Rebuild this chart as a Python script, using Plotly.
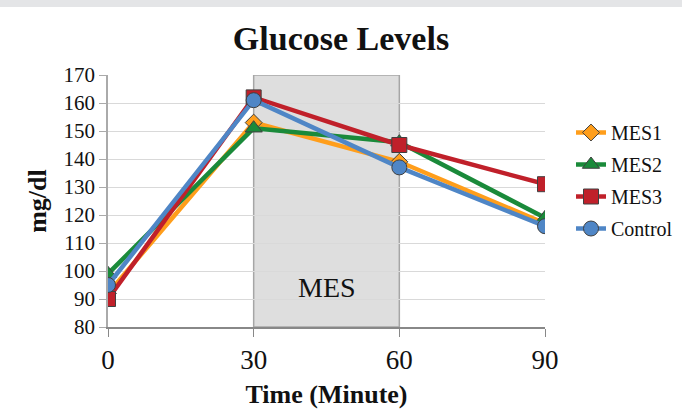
import plotly.graph_objects as go

time = [0, 30, 60, 90]
mes1 = [92, 153, 139, 117]
mes2 = [99, 151, 146, 119]
mes3 = [90, 162, 145, 131]
control = [95, 161, 137, 116]

series = [
    ("MES1", mes1, "#ff9e1b", "diamond"),
    ("MES2", mes2, "#1a8a3a", "triangle-up"),
    ("MES3", mes3, "#c0202a", "square"),
    ("Control", control, "#4f86c6", "circle"),
]

SERIF = "Liberation Serif"

fig = go.Figure()
for i, (name, vals, col, sym) in enumerate(series):
    fig.add_trace(go.Scatter(
        x=time, y=vals, name=name, mode="lines+markers",
        line=dict(color=col, width=4.5),
        marker=dict(symbol=sym, size=15 if sym != "diamond" else 13, color=col,
                    line=dict(color="#404040", width=1)),
        legendgroup=f"g{i}",
    ))

fig.add_shape(type="rect", x0=30, x1=60, y0=80, y1=170, xref="x", yref="y",
              fillcolor="#dedede", line=dict(color="#a6a6a6", width=1.5), layer="below")
fig.add_annotation(x=45, y=94, text="MES", showarrow=False,
                   font=dict(family=SERIF, size=28, color="#111"))
fig.add_shape(type="rect", xref="paper", yref="paper", x0=-0.3, x1=1.4,
              y0=1 + (75 - 7) / 252, y1=1 + 75 / 252, fillcolor="#e4e5e7", line=dict(width=0))

fig.update_layout(
    width=682, height=409,
    margin=dict(l=108, r=137, t=75, b=82, autoexpand=False),
    paper_bgcolor="white", plot_bgcolor="white",
    font=dict(family=SERIF, color="#111"),
    title=dict(text="<b>Glucose Levels</b>", x=0.5, xanchor="center",
               y=1 - 38 / 409, yanchor="middle",
               font=dict(family=SERIF, size=34, color="#111")),
    showlegend=True,
    legend=dict(xref="container", yref="container", x=571 / 682, y=1 - 113 / 409,
                xanchor="left", yanchor="top",
                font=dict(family=SERIF, size=20, color="#111"),
                tracegroupgap=3, bgcolor="rgba(0,0,0,0)"),
)
fig.update_xaxes(range=[0, 90], tickvals=[0, 30, 60, 90], ticks="outside", ticklen=8,
                 tickcolor="#888", showline=True, linecolor="#888", linewidth=1.5,
                 showgrid=False, zeroline=False, automargin=False,
                 tickfont=dict(family=SERIF, size=27, color="#111"),
                 title=dict(text="<b>Time (Minute)</b>", standoff=14,
                            font=dict(family=SERIF, size=26, color="#111")))
fig.update_yaxes(range=[80, 170], dtick=10, showline=True, linecolor="#aaa", linewidth=1.5,
                 showgrid=True, gridcolor="#d9d9d9", gridwidth=1.2, zeroline=False,
                 automargin=False, ticks="outside", ticklen=7, tickcolor="#aaa",
                 tickfont=dict(family=SERIF, size=21, color="#111"),
                 title=dict(text="<b>mg/dl</b>", standoff=9,
                            font=dict(family=SERIF, size=26, color="#111")))

fig.write_html("out.html", config={"displayModeBar": False},
               post_script="document.body.style.margin='0';")
